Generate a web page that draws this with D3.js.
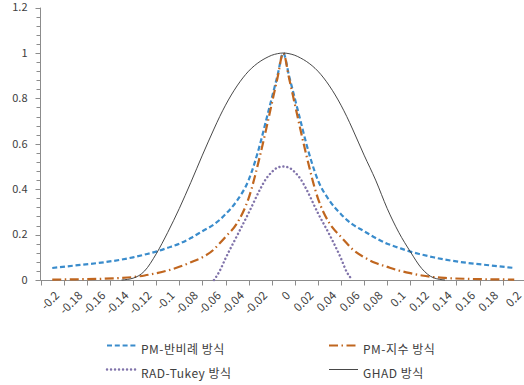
<!DOCTYPE html>
<html>
<head>
<meta charset="utf-8">
<script src="https://cdn.jsdelivr.net/npm/d3@7"></script>
<style>
  body { margin: 0; background: #fff; }
  svg text { font-family: "Noto Sans CJK KR", "Open Sans", sans-serif; fill: #404040; }
</style>
</head>
<body>
<svg id="chart" width="524" height="385"></svg>
<script>
// sample positions (x) shared by all series
var xs = [-0.2, -0.18, -0.16, -0.14, -0.13, -0.12, -0.11, -0.1, -0.09, -0.08, -0.07, -0.06, -0.055, -0.05,
          -0.04, -0.03, -0.02, -0.015, -0.01, -0.005, 0, 0.005, 0.01, 0.015, 0.02, 0.03, 0.04,
          0.05, 0.055, 0.06, 0.07, 0.08, 0.09, 0.1, 0.11, 0.12, 0.13, 0.14, 0.16, 0.18, 0.2];

var pmInverse = [0.053, 0.064, 0.075, 0.09, 0.1, 0.112, 0.125, 0.142, 0.16, 0.185, 0.215, 0.245, 0.265, 0.29,
                 0.35, 0.44, 0.6, 0.7, 0.8, 0.9, 1.0, 0.9, 0.8, 0.7, 0.6, 0.44, 0.35,
                 0.29, 0.265, 0.245, 0.215, 0.185, 0.16, 0.142, 0.125, 0.112, 0.1, 0.09, 0.075, 0.064, 0.053];

var pmExp = [0.002, 0.003, 0.005, 0.009, 0.013, 0.02, 0.03, 0.042, 0.058, 0.078, 0.1, 0.135, 0.162, 0.19,
             0.25, 0.36, 0.55, 0.66, 0.775, 0.89, 1.0, 0.89, 0.775, 0.66, 0.55, 0.36, 0.25,
             0.19, 0.162, 0.135, 0.1, 0.075, 0.058, 0.042, 0.03, 0.02, 0.013, 0.009, 0.005, 0.003, 0.002];

var radTukey = [null, null, null, null, null, null, null, null, null, null, null, 0.0, 0.04, 0.095,
                0.195, 0.295, 0.4, 0.445, 0.475, 0.495, 0.5, 0.495, 0.475, 0.445, 0.4, 0.295, 0.2,
                0.095, 0.035, 0.0, null, null, null, null, null, null, null, null, null, null, null];

var ghad = [null, null, null, 0.0, 0.008, 0.04, 0.115, 0.21, 0.315, 0.43, 0.55, 0.665, 0.72, 0.77,
            0.855, 0.92, 0.963, 0.978, 0.99, 0.997, 1.0, 0.997, 0.99, 0.978, 0.963, 0.92, 0.855,
            0.77, 0.72, 0.665, 0.55, 0.44, 0.315, 0.21, 0.125, 0.05, 0.01, 0.0, null, null, null];

var xTickLabels = ["-0.2", "-0.18", "-0.16", "-0.14", "-0.12", "-0.1", "-0.08", "-0.06", "-0.04", "-0.02", "0",
                   "0.02", "0.04", "0.06", "0.08", "0.1", "0.12", "0.14", "0.16", "0.18", "0.2"];
var yTicks = [0, 0.2, 0.4, 0.6, 0.8, 1, 1.2];

var series = [
    {name: "PM-반비례 방식", values: pmInverse, color: "#3a8ccc", width: 2.2, dash: "5,2.8", cap: "butt"},
    {name: "PM-지수 방식", values: pmExp, color: "#c0661f", width: 2.2, dash: "9,3.5,1.5,3.5", cap: "butt"},
    {name: "RAD-Tukey 방식", values: radTukey, color: "#8073aa", width: 2.4, dash: "0.1,3.9", cap: "round"},
    {name: "GHAD 방식", values: ghad, color: "#333333", width: 0.9, dash: null, cap: "butt"}
];

var svg = d3.select("#chart");
var axisColor = "#8c8c8c";

var x = d3.scaleLinear().domain([-0.21, 0.21]).range([40.7, 525.8]);
var y = d3.scaleLinear().domain([0, 1.2]).range([280, 7.6]);

// x axis: ticks between categories
var xBounds = d3.range(22).map(i => -0.21 + i * 0.02);
var gx = svg.append("g").attr("transform", "translate(0,280.5)");
gx.append("line").attr("x1", 40.5).attr("x2", 524).attr("stroke", axisColor);
gx.selectAll(".tk").data(xBounds).enter().append("line")
    .attr("x1", d => Math.round(x(d)) + 0.5).attr("x2", d => Math.round(x(d)) + 0.5)
    .attr("y1", 0).attr("y2", 5).attr("stroke", axisColor);
gx.selectAll("text").data(xTickLabels).enter().append("text")
    .attr("transform", (d, i) => `translate(${x(-0.2 + i * 0.02) + 5},${13}) rotate(-45)`)
    .attr("text-anchor", "end")
    .attr("dy", "0.35em")
    .style("font-size", "11.5px")
    .text(d => d);

// y axis
var gy = svg.append("g").attr("transform", "translate(40.5,0)");
gy.append("line").attr("y1", y(1.2)).attr("y2", 280.5).attr("stroke", axisColor);
var minor = d3.range(31).map(i => i * 0.04);
gy.selectAll(".mn").data(minor).enter().append("line")
    .attr("x1", -4).attr("x2", 0)
    .attr("y1", d => Math.round(y(d)) + 0.5).attr("y2", d => Math.round(y(d)) + 0.5)
    .attr("stroke", axisColor);
gy.selectAll(".mj").data(yTicks).enter().append("line")
    .attr("x1", -5).attr("x2", 0)
    .attr("y1", d => Math.round(y(d)) + 0.5).attr("y2", d => Math.round(y(d)) + 0.5)
    .attr("stroke", axisColor);
gy.selectAll("text").data(yTicks).enter().append("text")
    .attr("x", -13).attr("y", d => y(d)).attr("dy", "0.35em")
    .attr("text-anchor", "end")
    .style("font-size", "11px")
    .text(d => d);

// legend
var legendPos = [[106, 350], [328, 350], [106, 374], [328, 374]];
series.forEach((s, i) => {
    var g = svg.append("g").attr("transform", `translate(${legendPos[i][0]},${legendPos[i][1]})`);
    g.append("line").attr("x1", 1).attr("x2", 30).attr("y1", -4.5).attr("y2", -4.5)
        .attr("stroke", s.color).attr("stroke-width", s.width)
        .attr("stroke-dasharray", s.dash).attr("stroke-linecap", s.cap);
    g.append("text").attr("x", 35).attr("y", 0).attr("dy", "0.35em")
        .style("font-size", "12px").style("letter-spacing", "0.5px").text(s.name);
});

// curves
series.forEach(s => {
    var pts = xs.map((v, i) => [v, s.values[i]]);
    var line = d3.line()
        .defined(d => d[1] !== null)
        .x(d => x(d[0])).y(d => y(d[1]))
        .curve(d3.curveMonotoneX);
    svg.append("path")
        .attr("d", line(pts))
        .attr("fill", "none")
        .attr("stroke", s.color)
        .attr("stroke-width", s.width)
        .attr("stroke-dasharray", s.dash)
        .attr("stroke-linecap", s.cap);
});
</script>
</body>
</html>
